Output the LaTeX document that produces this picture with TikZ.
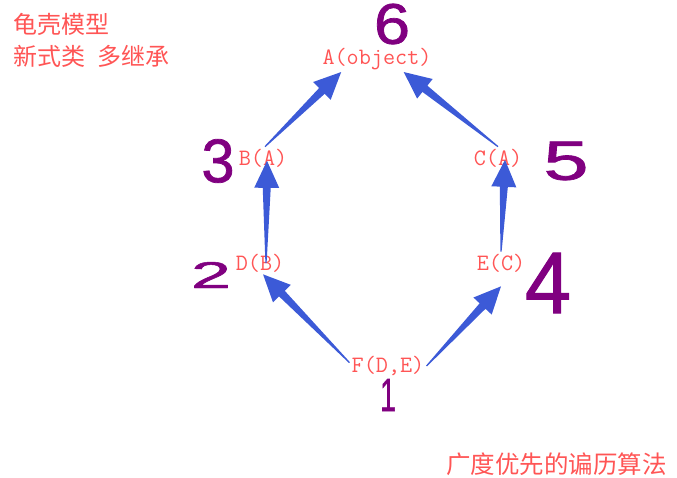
\documentclass[tikz,border=0pt]{standalone}
\usepackage{fontspec}
\usepackage{graphicx}
\usetikzlibrary{calc}
\newfontfamily\cjk{Noto Sans CJK SC}
\newfontfamily\hand{Liberation Sans}[FakeBold=1.2]
\definecolor{textred}{RGB}{255,85,85}
\definecolor{arrowblue}{RGB}{60,90,215}
\definecolor{numpurple}{RGB}{128,0,128}

\begin{document}
\begin{tikzpicture}[x=1pt,y=-1pt,
	cls/.style={text=textred,font=\fontsize{23.5}{23.5}\selectfont\ttfamily,inner sep=2pt},
	note/.style={text=textred,font=\fontsize{24}{24}\selectfont\cjk,inner sep=0pt,anchor=base west},
	num/.style={text=numpurple,font=\hand,inner sep=0pt},
	inh/.style={fill=arrowblue,to path={
		let \p1=($(\tikztotarget)!27pt!(\tikztostart)$) in
		($(\tikztostart)!0.6pt!90:(\tikztotarget)$) -- ($(\p1)!4pt!90:(\tikztotarget)$)
		-- ($(\p1)!12.5pt!90:(\tikztotarget)$) -- (\tikztotarget)
		-- ($(\p1)!12.5pt!-90:(\tikztotarget)$) -- ($(\p1)!4pt!-90:(\tikztotarget)$)
		-- ($(\tikztostart)!0.6pt!-90:(\tikztotarget)$) -- cycle}}]
	
	\useasboundingbox (0,0) rectangle (677,477);
	
	\node[note] (t1) at (13,33) {龟壳模型};
	\node[note] (t2) at (13,65) {新式类\hspace{0.5em}多继承};
	\node[note,font=\fontsize{24.5}{24.5}\selectfont\cjk] (t3) at (446,473.5) {广度优先的谝历算法};
	
	\node[cls] (A) at (377,59) {A(object)};
	\node[cls] (B) at (263,158) {B(A)};
	\node[cls] (C) at (498,158) {C(A)};
	\node[cls] (D) at (260,263) {D(B)};
	\node[cls] (E) at (501,263) {E(C)};
	\node[cls] (F) at (388,366) {F(D,E)};
	
	\fill[inh] (F.175) to (D.285);
	\fill[inh] (F.east) to ([yshift=-12pt]E.south);
	\fill[inh] ([xshift=6pt]D.center) to ([shift={(4pt,8.5pt)}]B.south);
	\fill[inh] (E.north) to ([shift={(7pt,9.5pt)}]C.south);
	\fill[inh] (B.80) to (A.200);
	\fill[inh] (C.north) to (A.-26);
	
	% order of the search
	\node[num] (n1) at (388,395) {\resizebox{16pt}{32pt}{1}};
	\node[num] (n2) at (211,275) {\resizebox{40pt}{26pt}{2}};
	\node[num] (n3) at (218,161) {\resizebox{33pt}{43pt}{3}};
	\node[num] (n4) at (548,283) {\resizebox{46pt}{60pt}{4}};
	\node[num] (n5) at (566,161) {\resizebox{45pt}{38pt}{5}};
	\node[num] (n6) at (392,24) {\resizebox{36pt}{40pt}{6}};
	
\end{tikzpicture}
\end{document}
